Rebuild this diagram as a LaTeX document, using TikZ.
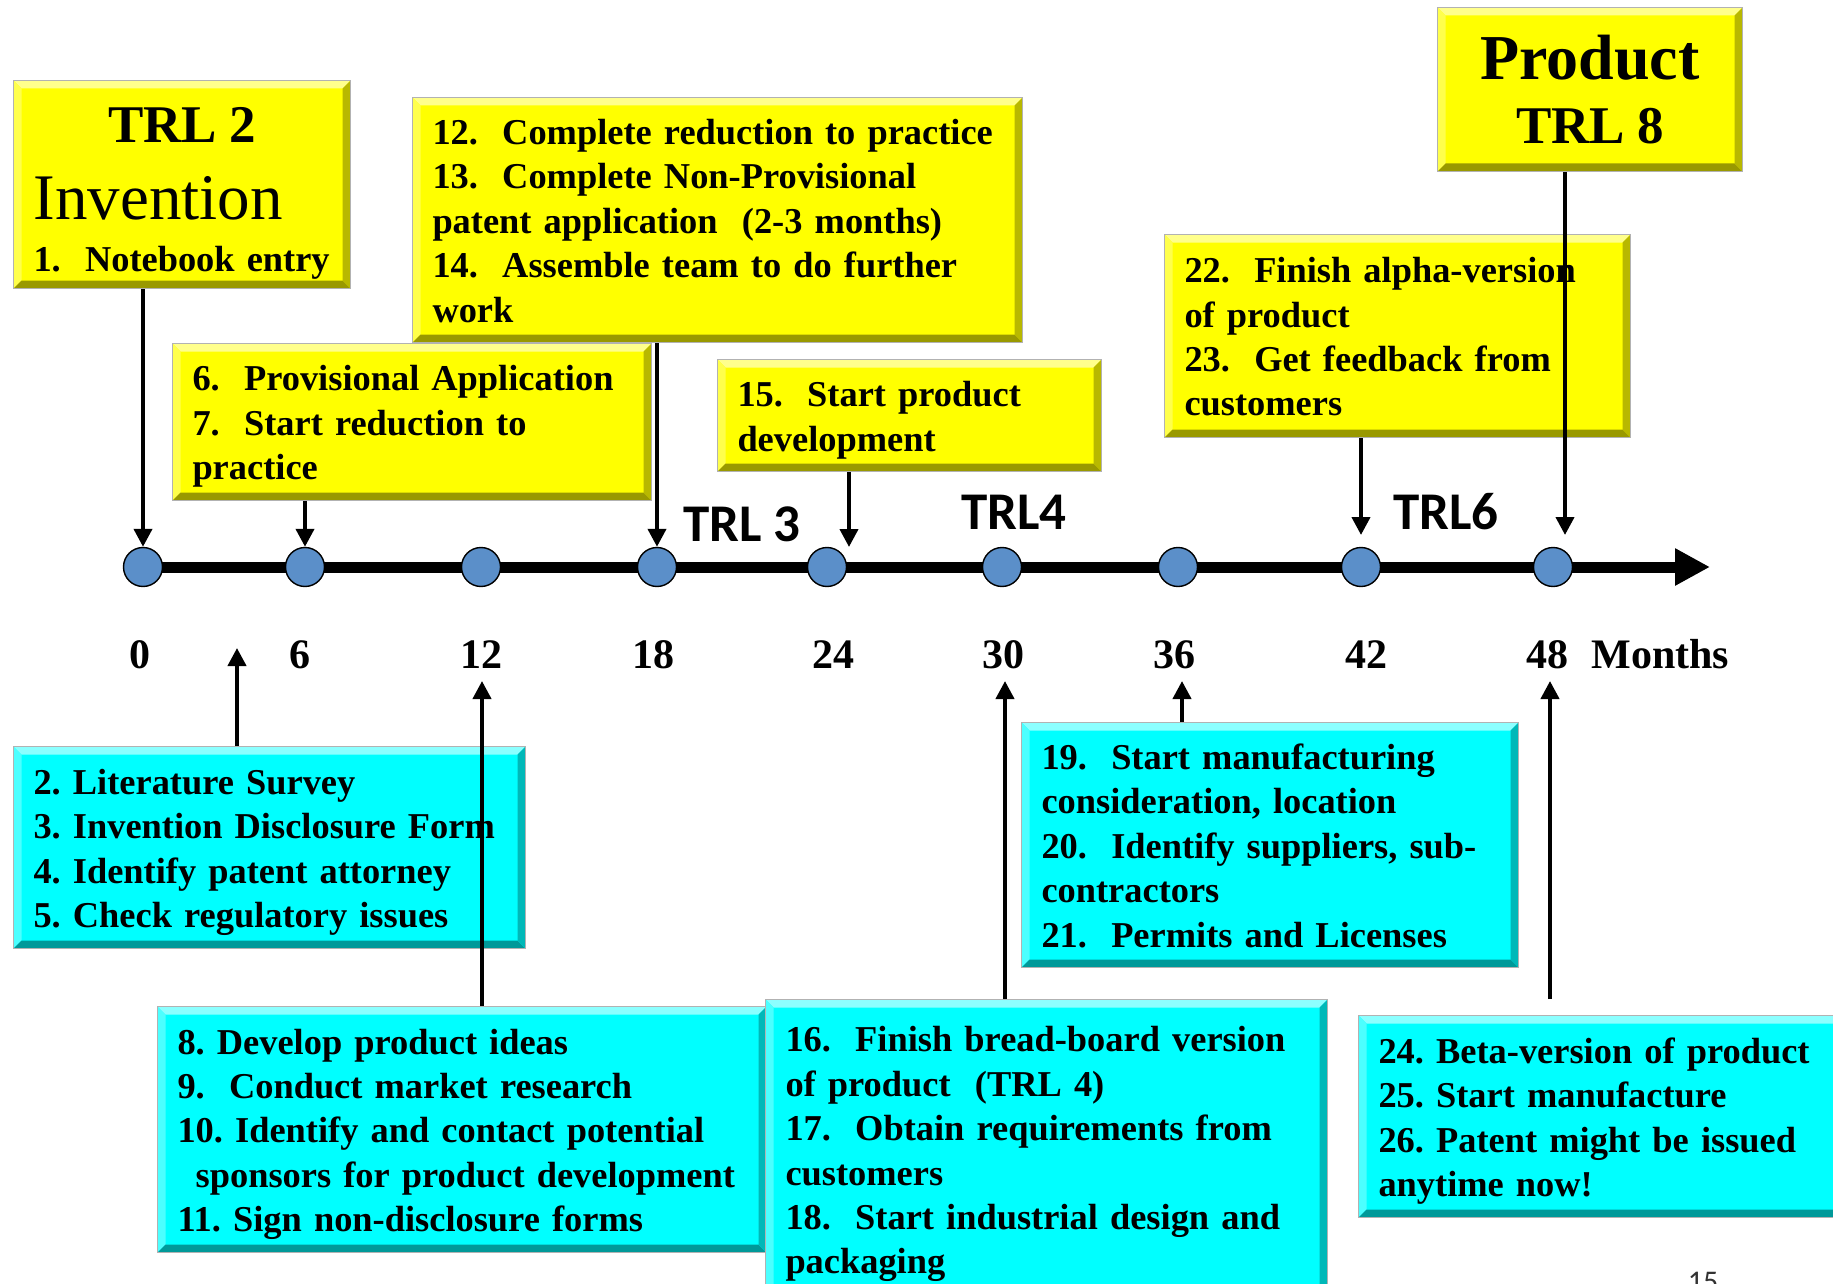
\documentclass[tikz,border=0pt]{standalone}
\usepackage{fontspec}
\setmainfont{Liberation Serif}
\newfontfamily\trlfamily{Carlito}
\usetikzlibrary{positioning, backgrounds, arrows.meta}

\definecolor{boxyellow}{RGB}{255,255,0}
\definecolor{boxcyan}{RGB}{0,255,255}
\definecolor{dotblue}{RGB}{91,143,201}

\newcommand{\boxfont}{\fontsize{18.2}{22.2}\selectfont\bfseries\frenchspacing}
\newcommand{\monthfont}{\fontsize{21}{25}\selectfont\bfseries}
\newcommand{\trlfont}{\trlfamily\fontsize{26.5}{30}\selectfont\bfseries}
\newcommand{\pagefont}{\trlfamily\fontsize{15}{18}\selectfont}

\tikzset{
	bevel/.style={path picture={
		\path (path picture bounding box.south west) coordinate (bsw)
			(path picture bounding box.north east) coordinate (bne)
			(path picture bounding box.north west) coordinate (bnw)
			(path picture bounding box.south east) coordinate (bse);
		\fill[#1!45!white] (bnw) -- (bne) -- ([shift={(-4pt,-4pt)}]bne) -- ([shift={(4pt,-4pt)}]bnw) -- cycle;
		\fill[#1!70!white] (bnw) -- ([shift={(4pt,-4pt)}]bnw) -- ([shift={(4pt,4pt)}]bsw) -- (bsw) -- cycle;
		\fill[#1!60!black] (bsw) -- ([shift={(4pt,4pt)}]bsw) -- ([shift={(-4pt,4pt)}]bse) -- (bse) -- cycle;
		\fill[#1!72!black] (bse) -- ([shift={(-4pt,4pt)}]bse) -- ([shift={(-4pt,-4pt)}]bne) -- (bne) -- cycle;
	}},
	ybase/.style={draw=black!30, line width=0.5pt, fill=boxyellow, bevel=boxyellow, anchor=north west,
		inner xsep=10pt, inner ysep=3pt, align=left, font=\boxfont},
	ybox/.style={ybase, execute at begin node={\rule{0pt}{0.9\baselineskip}}, execute at end node=\strut},
	cbox/.style={ybox, fill=boxcyan, bevel=boxcyan},
	dot/.style={circle, draw=black, line width=0.7pt, fill=dotblue, minimum size=19.5pt, inner sep=0pt},
	month/.style={anchor=base, inner sep=0pt, font=\monthfont},
	trl/.style={anchor=base, inner sep=0pt, font=\trlfont},
	arr/.style={line width=2pt, -{Triangle[length=9pt,width=9pt]}},
	axisline/.style={line width=5.5pt, -{Triangle[length=17.5pt,width=17.5pt]}}
}

\begin{document}
\begin{tikzpicture}[x=0.5pt, y=-0.5pt]
			\useasboundingbox (0,0) rectangle (1833,1284);
			
			% Cajas de arriba
			\node[ybase, minimum width=168.5pt, minimum height=104pt, text width=148.5pt] (trl2) at (13,80)
				{{\centering\fontsize{26.5}{30}\selectfont\rule{0pt}{26pt}TRL 2\par}
				{\fontsize{32.5}{38.5}\selectfont\mdseries Invention\par}
				{\boxfont\baselineskip=26pt 1.~~Notebook entry\par}};
			\node[ybox, minimum width=305pt, minimum height=122.5pt, text width=285pt] (fullapp) at (412,97)
				{12.~~Complete reduction to practice\\ 13.~~Complete Non-Provisional\\ patent application~~(2-3 months)\\ 14.~~Assemble team to do further\\ work};
			\node[ybox, minimum width=239.5pt, minimum height=78.5pt, text width=219.5pt] (provapp) at (172,343)
				{6.~~Provisional Application\\ 7.~~Start reduction to\\ practice};
			\node[ybox, minimum width=192pt, minimum height=56pt, text width=172pt] (prodev) at (717,359)
				{15.~~Start product\\ development};
			\node[ybox, minimum width=233pt, minimum height=101.5pt, text width=213pt] (alpha) at (1164,234)
				{22.~~Finish alpha-version\\ of product\\ 23.~~Get feedback from\\ customers};
			\node[ybase, align=center, minimum width=152.5pt, minimum height=82pt, text width=132.5pt] (product) at (1437,7)
				{\fontsize{32}{32}\selectfont Product\\ \fontsize{26.5}{32}\selectfont TRL 8\par};
			
			% Cajas de abajo
			\node[cbox, minimum width=256pt, minimum height=101pt, text width=236pt] (litsurvey) at (13,746)
				{2. Literature Survey\\ 3. Invention Disclosure Form\\ 4. Identify patent attorney\\ 5. Check regulatory issues};
			\node[cbox, minimum width=304.5pt, minimum height=123pt, text width=284.5pt] (ideas) at (157,1006)
				{8. Develop product ideas\\ 9.~~Conduct market research\\ 10. Identify and contact potential\\ \hspace*{0.5em}sponsors for product development\\ 11. Sign non-disclosure forms};
			\node[cbox, minimum width=281pt, minimum height=150pt, text width=261pt] (bread) at (765,999)
				{16.~~Finish bread-board version\\ of product~~(TRL 4)\\ 17.~~Obtain requirements from\\ customers\\ 18.~~Start industrial design and\\ packaging};
			\node[cbox, minimum width=248.5pt, minimum height=122.5pt, text width=228.5pt] (manuf) at (1021,722)
				{19.~~Start manufacturing\\ consideration, location\\ 20.~~Identify suppliers, sub-\\ contractors\\ 21.~~Permits and Licenses};
			\node[cbox, minimum width=255pt, minimum height=101pt, text width=235pt] (beta) at (1358,1015)
				{24. Beta-version of product\\ 25. Start manufacture\\ 26. Patent might be issued\\ anytime now!};
			
			% Puntos de la linea de tiempo
			\foreach \m/\x in {0/143,6/305,12/481,18/657,24/827,30/1002,36/1178,42/1361,48/1553} {
				\node[dot] (c\m) at (\x,567) {};
			}
			\coordinate (axisend) at (1710,567);
			
			\begin{scope}[on background layer]
				\draw[axisline] (c0.center) -- (axisend);
			\end{scope}
			
			% Meses
			\foreach \m/\x in {0/140,6/300,12/481,18/653,24/833,30/1003,36/1174,42/1366,48/1547} {
				\node[month] (m\m) at (\x,668) {\m};
			}
			\node[month, anchor=base west] (munit) at (1591,668) {Months};
			
			% Etiquetas TRL
			\node[trl] (trl3) at (742,541) {TRL 3};
			\node[trl] (trl4) at (1014,529) {TRL4};
			\node[trl] (trl6) at (1446,529) {TRL6};
			
			% Puntas de flecha
			\coordinate (tip24) at (849,547);
			\coordinate (tip42) at (1361,535);
			\coordinate (tip48) at (1565,535);
			\coordinate (tiplit) at (237,648);
			\coordinate (tip12) at (482,681);
			\coordinate (tip30) at (1005,681);
			\coordinate (tip36) at (1182,681);
			\coordinate (tip48up) at (1550,681);
			\coordinate (betatail) at (1550,999);
			
			% Flechas hacia abajo
			\draw[arr] (trl2.south -| c0) -- (c0.north);
			\draw[arr] (provapp.south -| c6) -- (c6.north);
			\draw[arr] (fullapp.south -| c18) -- (c18.north);
			\draw[arr] (prodev.south -| tip24) -- (tip24);
			\draw[arr] (alpha.south -| tip42) -- (tip42);
			\draw[arr] (product.south -| tip48) -- (tip48);
			
			% Flechas hacia arriba
			\draw[arr] (litsurvey.north -| tiplit) -- (tiplit);
			\draw[arr] (ideas.north -| tip12) -- (tip12);
			\draw[arr] (bread.north -| tip30) -- (tip30);
			\draw[arr] (manuf.north -| tip36) -- (tip36);
			\draw[arr] (betatail) -- (tip48up);
			
			% Numero de pagina
			\node[anchor=north, inner sep=0pt, font=\pagefont, text=black!80] (pagenum) at (1703,1272) {15};
			
		\end{tikzpicture}
\end{document}
